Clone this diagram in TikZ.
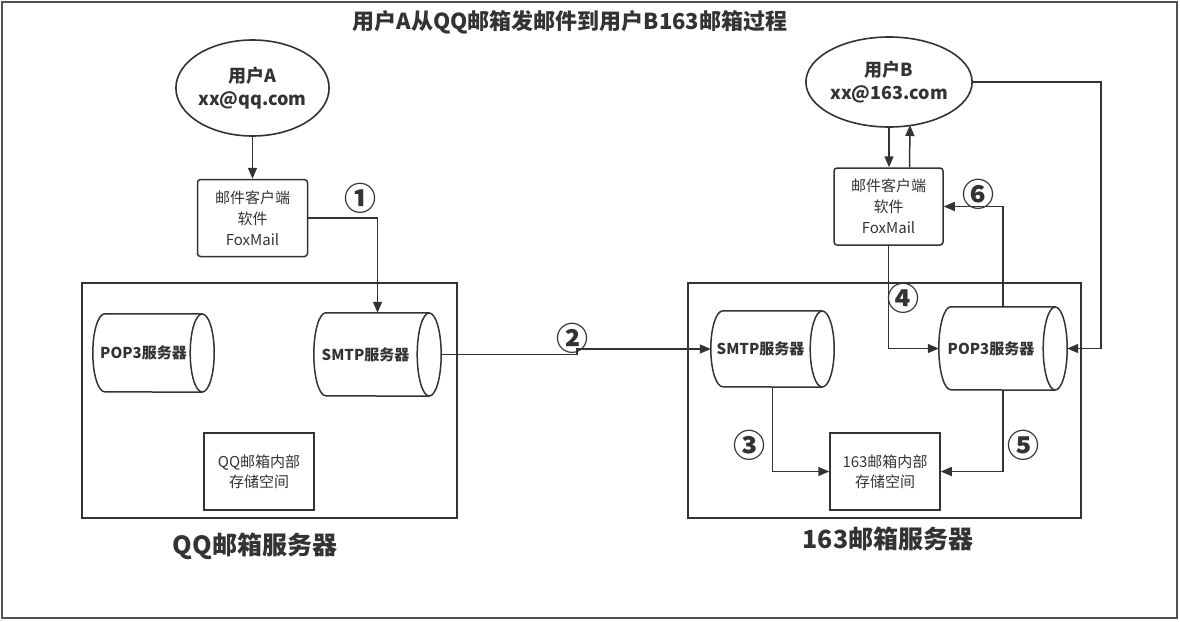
\documentclass[tikz,border=0pt]{standalone}
\usepackage{fontspec}
\setmainfont{Noto Sans CJK SC}
\usetikzlibrary{arrows.meta,shapes.geometric,calc}
\definecolor{ln}{HTML}{333333}
\definecolor{tx}{HTML}{333333}
\tikzset{
  cyl/.style={draw=ln, line width=1.5pt},
  cylbox/.style={inner sep=0pt, draw=none},
  arr/.style={draw=ln, line width=1.5pt, -{Triangle[length=11pt,width=9pt]}},
  userell/.style={ellipse, draw=ln, line width=1.6pt, inner sep=0pt, align=center, text=tx, font=\bfseries\fontsize{18}{23}\selectfont},
  clientbox/.style={draw=ln, line width=1.5pt, rounded corners=3pt, inner sep=0pt, align=center, text=tx, font=\fontsize{15}{21}\selectfont},
  storebox/.style={draw=ln, line width=1.5pt, inner sep=0pt, align=center, text=tx, font=\fontsize{15}{20}\selectfont},
  srvbox/.style={draw=ln, line width=1.5pt},
  srvlabel/.style={text=tx, font=\bfseries\fontsize{25}{28}\selectfont},
  cyltext/.style={text=tx, font=\bfseries\fontsize{15}{18}\selectfont},
  num/.style={text=tx, inner sep=0pt, font=\bfseries\fontsize{32}{32}\selectfont}
}
\newcommand{\cylshape}[3]{%
  \draw[cyl] ($(#1.north east)+(-#2,0)$) -- ($(#1.north west)+(#2,0)$)
     arc[start angle=90,end angle=270,x radius=#2pt,y radius=#3pt]
     -- ($(#1.south east)+(-#2,0)$);
  \draw[cyl] ($(#1.east)+(-#2,0)$) ellipse[x radius=#2pt,y radius=#3pt];
}
\begin{document}
\begin{tikzpicture}[x=1pt,y=-1pt]
\useasboundingbox (0,0) rectangle (1180,621);
\draw[draw=ln!85, line width=1.5pt] (2,2) rectangle (1177,618);

\node[text=tx, font=\bfseries\fontsize{22}{25}\selectfont] (title) at (570,22) {用户A从QQ邮箱发邮件到用户B163邮箱过程};

% left side
\node[userell, minimum width=140pt, minimum height=96pt] (userA) at (252.5,88) {用户A\\xx@qq.com};
\node[clientbox, minimum width=110pt, minimum height=77pt] (clientA) at (252.5,218) {邮件客户端\\软件\\FoxMail};

\draw[srvbox] (82,283) rectangle (457,518);
\node[srvlabel] (qqlabel) at (255,546) {QQ邮箱服务器};

\node[cylbox, minimum width=121pt, minimum height=78pt, label={[cyltext, xshift=-10pt]center:POP3服务器}] (pop3A) at (153.5,353) {};
\cylshape{pop3A}{12}{39}
\node[cylbox, minimum width=127pt, minimum height=83pt, label={[cyltext, xshift=-12pt]center:SMTP服务器}] (smtpA) at (377.5,354.5) {};
\cylshape{smtpA}{12}{41.5}
\node[storebox, minimum width=110pt, minimum height=77pt] (storeA) at (259,471.5) {QQ邮箱内部\\存储空间};

% right side
\node[userell, minimum width=146pt, minimum height=90pt] (userB) at (889,82) {用户B\\xx@163.com};
\node[clientbox, minimum width=109pt, minimum height=77pt] (clientB) at (888.5,206.5) {邮件客户端\\软件\\FoxMail};

\draw[srvbox] (688,283) rectangle (1081,518);
\node[srvlabel] (label163) at (888,539) {163邮箱服务器};

\node[cylbox, minimum width=123pt, minimum height=76pt, label={[cyltext, xshift=-12pt]center:SMTP服务器}] (smtpB) at (772.5,349) {};
\cylshape{smtpB}{12}{38}
\node[cylbox, minimum width=128pt, minimum height=83pt, label={[cyltext, xshift=-12pt]center:POP3服务器}] (pop3B) at (1003,348.5) {};
\cylshape{pop3B}{12}{41.5}
\node[storebox, minimum width=110pt, minimum height=77pt] (storeB) at (885,471.5) {163邮箱内部\\存储空间};

% helper coordinates
\coordinate (c2) at (577,0);
\coordinate (c7) at (1101,0);

% connectors
\draw[arr] (userA.south) -- (userA.south |- clientA.north);
\draw[arr] (clientA.east) -| (smtpA.north);
\draw[arr] (smtpA.east) -- (smtpA.east -| c2) -- (smtpB.west -| c2) -- (smtpB.west);
\draw[arr] (smtpB.south) |- (storeB.west);
\draw[arr] (pop3B.south) |- (storeB.east);
\draw[arr] (clientB.south) |- (pop3B.west);
\draw[arr] (pop3B.north) |- (clientB.east);
\draw[arr] (userB.east) -- (userB.east -| c7) -- (pop3B.east -| c7) -- (pop3B.east);
\draw[arr] (userB.south) -- (userB.south |- clientB.north);
\draw[arr] ($(clientB.north)+(21,0)$) -- ($(userB.center)+(21,43)$);

% step numbers
\node[num] (n1) at (360,198) {①};
\node[num] (n2) at (572,338) {②};
\node[num] (n3) at (749,445) {③};
\node[num] (n4) at (903,298) {④};
\node[num] (n5) at (1023,445) {⑤};
\node[num] (n6) at (978,194) {⑥};
\end{tikzpicture}
\end{document}
